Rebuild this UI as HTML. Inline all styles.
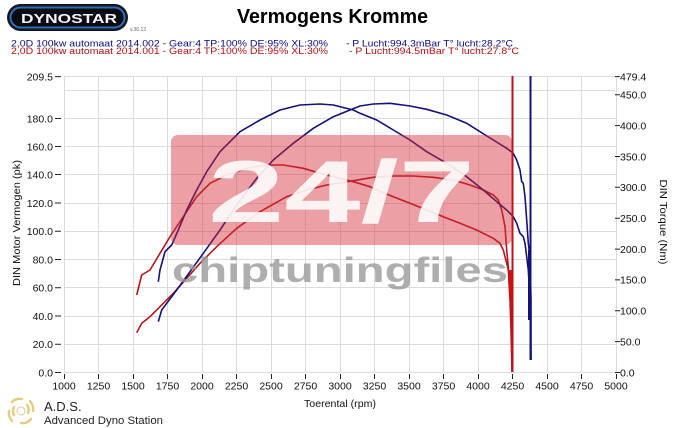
<!DOCTYPE html>
<html><head><meta charset="utf-8"><style>
html,body{margin:0;padding:0;background:#fff;}
svg{display:block;font-family:"Liberation Sans",Arial,sans-serif;}
</style></head><body>
<svg width="685" height="428" viewBox="0 0 685 428" xmlns="http://www.w3.org/2000/svg">
<rect width="685" height="428" fill="#fff"/>
<!-- Dynostar logo -->
<rect x="7" y="4" width="121" height="27" rx="13.5" fill="#16161e"/>
<rect x="10.5" y="7.5" width="114" height="20" rx="10" fill="#0b0b12" stroke="#2b6fba" stroke-width="2"/>
<text x="21" y="23" font-size="12.5" font-weight="bold" fill="#f4f4f4" textLength="96" lengthAdjust="spacingAndGlyphs">DYNOSTAR</text>
<text x="130" y="31" font-size="5" fill="#666">v.36.13</text>
<!-- Title -->
<text x="237" y="23" font-size="20" font-weight="bold" fill="#000" textLength="191" lengthAdjust="spacingAndGlyphs">Vermogens Kromme</text>
<!-- Legend -->
<g font-size="9.2">
<text x="11" y="46.7" fill="#0a0a80" textLength="317" lengthAdjust="spacingAndGlyphs">2,0D 100kw automaat 2014.002 - Gear:4 TP:100% DE:95% XL:30%</text>
<text x="346" y="46.7" fill="#0a0a80" textLength="167" lengthAdjust="spacingAndGlyphs">- P Lucht:994.3mBar T° lucht:28.2°C</text>
<text x="11" y="54" fill="#b01010" textLength="317" lengthAdjust="spacingAndGlyphs">2,0D 100kw automaat 2014.001 - Gear:4 TP:100% DE:95% XL:30%</text>
<text x="349" y="54" fill="#b01010" textLength="170" lengthAdjust="spacingAndGlyphs">- P Lucht:994.5mBar T° lucht:27.8°C</text>
</g>
<!-- Grid -->
<g stroke="#dcdcdc" stroke-width="1" fill="none">
<path d="M64.5 76.5V372.5M98.5 76.5V372.5M133.5 76.5V372.5M167.5 76.5V372.5M202.5 76.5V372.5M236.5 76.5V372.5M271.5 76.5V372.5M305.5 76.5V372.5M340.5 76.5V372.5M374.5 76.5V372.5M409.5 76.5V372.5M443.5 76.5V372.5M478.5 76.5V372.5M512.5 76.5V372.5M547.5 76.5V372.5M581.5 76.5V372.5M616.5 76.5V372.5"/>
<path d="M64 76.5H616M64 90.5H616M64 118.5H616M64 146.5H616M64 174.5H616M64 203.5H616M64 231.5H616M64 259.5H616M64 287.5H616M64 316.5H616M64 344.5H616M64 372.5H616"/>
</g>
<!-- Left axis ticks/labels -->
<g stroke="#222" stroke-width="1">
<path d="M55 76.6H61M55 118.5H61M55 146.5H61M55 174.5H61M55 203H61M55 231.3H61M55 259.5H61M55 287.7H61M55 316H61M55 344.3H61M55 372.5H61"/>
<path d="M615 76.6H620M615 94.8H620M615 125.6H620M615 156.5H620M615 187.3H620M615 218.2H620M615 249.1H620M615 279.9H620M615 310.8H620M615 341.6H620M615 372.5H620"/>
<path d="M64.5 374V379M98.5 374V379M133.5 374V379M167.5 374V379M202.5 374V379M236.5 374V379M271.5 374V379M305.5 374V379M340.5 374V379M374.5 374V379M409.5 374V379M443.5 374V379M478.5 374V379M512.5 374V379M547.5 374V379M581.5 374V379M616.5 374V379"/>
</g>
<g font-size="10.5" fill="#111" text-anchor="end">
<text x="53" y="80.5">209.5</text>
<text x="53" y="122.3">180.0</text>
<text x="53" y="150.3">160.0</text>
<text x="53" y="178.3">140.0</text>
<text x="53" y="206.8">120.0</text>
<text x="53" y="235.1">100.0</text>
<text x="53" y="263.3">80.0</text>
<text x="53" y="291.5">60.0</text>
<text x="53" y="319.8">40.0</text>
<text x="53" y="348.1">20.0</text>
<text x="53" y="376.3">0.0</text>
</g>
<g font-size="10.5" fill="#111">
<text x="620" y="80.5">479.4</text>
<text x="620" y="98.6">450.0</text>
<text x="620" y="129.4">400.0</text>
<text x="620" y="160.3">350.0</text>
<text x="620" y="191.1">300.0</text>
<text x="620" y="222">250.0</text>
<text x="620" y="252.9">200.0</text>
<text x="620" y="283.7">150.0</text>
<text x="620" y="314.6">100.0</text>
<text x="620" y="345.4">50.0</text>
<text x="620" y="376.3">0.0</text>
</g>
<g font-size="10.5" fill="#111" text-anchor="middle">
<text x="64" y="389.5">1000</text>
<text x="98.5" y="389.5">1250</text>
<text x="133" y="389.5">1500</text>
<text x="167.5" y="389.5">1750</text>
<text x="202" y="389.5">2000</text>
<text x="236.5" y="389.5">2250</text>
<text x="271" y="389.5">2500</text>
<text x="305.5" y="389.5">2750</text>
<text x="340" y="389.5">3000</text>
<text x="374.5" y="389.5">3250</text>
<text x="409" y="389.5">3500</text>
<text x="443.5" y="389.5">3750</text>
<text x="478" y="389.5">4000</text>
<text x="512.5" y="389.5">4250</text>
<text x="547" y="389.5">4500</text>
<text x="581.5" y="389.5">4750</text>
<text x="616" y="389.5">5000</text>
</g>
<text x="340" y="407" font-size="10.5" fill="#111" text-anchor="middle" textLength="72" lengthAdjust="spacingAndGlyphs">Toerental (rpm)</text>
<text transform="translate(20,223) rotate(-90)" font-size="10.5" fill="#111" text-anchor="middle" textLength="126" lengthAdjust="spacingAndGlyphs">DIN Motor Vermogen (pk)</text>
<text transform="translate(660,222) rotate(90)" font-size="10.5" fill="#111" text-anchor="middle" textLength="85" lengthAdjust="spacingAndGlyphs">DIN Torque (Nm)</text>
<!-- Curves -->
<g fill="none" stroke-width="1.6" stroke-linejoin="round">
<polyline stroke="#b8161c" points="136.7,295 141.7,275 150,270 160,253.3 170,236.7 183.3,216.7 196.7,196.7 210,183.3 226.7,175 246.7,168.3 266.7,165 283.3,165 303.3,168.3 320,173.3 340,178.3 353.3,181.7 370,186.7 376.7,190 393.3,196.7 410,203.3 426.7,210 443.3,216.7 460,223.3 476.7,230 493.3,238.3 500,243.3 503.3,250 506.7,263.3 508.3,270 510,300 511,330 512,372"/>
<polyline stroke="#b8161c" points="136.7,332.7 141.7,323.3 150,316.7 160,306.7 173.3,293.3 186.7,278.3 200,263.3 216.7,246.7 236.7,228.3 260,211.7 286.7,196.7 306.7,190 326.7,185 353.3,180.7 373.3,177.3 393.3,176 413.3,176 433.3,177.3 453.3,180 470,185 483.3,190 493.3,195 498.3,200 501.7,210 505,226.7 506.7,250 508.3,266.7 510,286.7 511.7,303.3 512,372"/>
<polyline stroke="#12127a" points="158.3,281.7 160,270 165,251.7 171.7,245 178.3,230 186.7,210 196.7,190 206.7,171.7 220,151.7 240,131.7 260,120 280,110 300,105 320,104 333.3,105 353.3,110 360,113.3 376.7,120 393.3,130 410,140 426.7,151.7 446.7,163.3 466.7,176.7 483.3,190 496.7,201.7 506.7,210 513.3,216.7 516.7,223.3 520,233.3 523.3,236.7 525,243.3 526.7,256.7 528.3,270 530,300 531,360"/>
<polyline stroke="#12127a" points="158.3,321.7 161.7,310 166.7,303.3 176.7,290 190,271.7 203.3,253.3 220,230 236.7,205 256.7,178.3 273.3,160 293.3,143.3 313.3,128.3 333.3,116.7 350,110 360,106 373.3,104 390,103.3 410,106 426.7,109.3 446.7,115 466.7,123.3 480,131.7 493.3,140 506.7,148.3 513.3,153.3 516.7,160 520,170 521.7,181.7 523.3,183.3 525,196.7 526.7,220 528.3,243.3 530,256.7 531,300 531,360"/>
<path d="M512.5 76V372" stroke="#b8161c" stroke-width="2"/>
<path d="M530.5 76V360" stroke="#12127a" stroke-width="2"/>
<path d="M529.5 250V320" stroke="#12127a" stroke-width="3"/>
<path d="M511 270V300" stroke="#d01010" stroke-width="3"/>
</g>
<!-- Watermark -->
<rect x="171" y="135" width="341" height="110" rx="7" fill="#d42a35" opacity="0.45"/>
<text x="208" y="222" font-size="88" font-weight="bold" fill="#fff" opacity="0.88" textLength="267" lengthAdjust="spacingAndGlyphs">24/7</text>
<text x="172" y="282" font-size="35" font-weight="bold" fill="#9a9a9a" opacity="0.8" textLength="336" lengthAdjust="spacingAndGlyphs">chiptuningfiles</text>
<!-- ADS logo -->
<g fill="none" stroke="#e2c66a" stroke-width="2.5" stroke-linecap="round" opacity="0.85">
<circle cx="21" cy="411" r="4" stroke-width="1" stroke="#d8c080"/>
<path d="M12 402 Q16 398 22 399"/>
<path d="M30 401 Q34 406 33 411"/>
<path d="M31 419 Q27 424 21 423"/>
<path d="M12 421 Q8 416 9 411"/>
<path d="M14 407 Q12 411 14 415"/>
<path d="M27 405 Q30 409 28 413"/>
</g>
<text x="44" y="411" font-size="13" fill="#222">A.D.S.</text>
<text x="44" y="424" font-size="11" fill="#222" textLength="119" lengthAdjust="spacingAndGlyphs">Advanced Dyno Station</text>
</svg>
</body></html>
